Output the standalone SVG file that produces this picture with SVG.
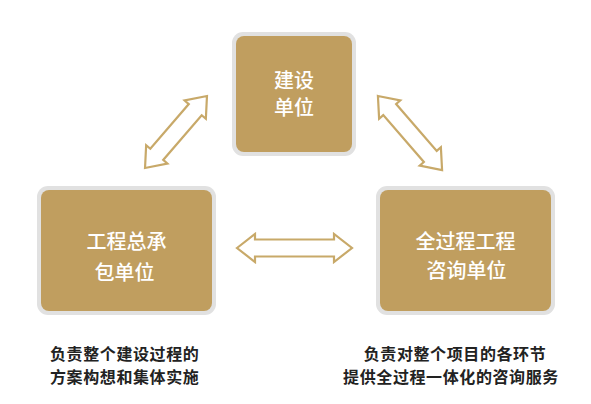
<svg xmlns="http://www.w3.org/2000/svg" width="591" height="404" viewBox="0 0 591 404">
<defs>
<style>
.frame{fill:#e1e1e1}
.box{fill:#c09e5f}
.lbl{font-family:"Noto Sans CJK SC","Noto Sans",sans-serif;font-size:20px;fill:#ffffff;text-anchor:middle;font-weight:500}
.note{font-family:"Noto Sans CJK SC","Noto Sans",sans-serif;font-size:16px;letter-spacing:0.6px;fill:#222222;font-weight:bold}
.arr{fill:#ffffff;stroke:#c8a969;stroke-width:2.2;stroke-linejoin:miter}
</style>
</defs>
<rect width="591" height="404" fill="#ffffff"/>
<g id="node-build">
<rect class="frame" x="232" y="32" width="124" height="124" rx="11"/>
<rect class="box" x="236" y="36" width="116" height="116" rx="8"/>
<text class="lbl" x="294" y="88">建设</text>
<text class="lbl" x="294" y="115">单位</text>
</g>
<g id="node-epc">
<rect class="frame" x="37" y="186" width="179" height="129" rx="11"/>
<rect class="box" x="41" y="190" width="171" height="121" rx="8"/>
<text class="lbl" x="126.5" y="249">工程总承</text>
<text class="lbl" x="124.5" y="280">包单位</text>
</g>
<g id="node-consult">
<rect class="frame" x="376" y="186" width="179" height="129" rx="11"/>
<rect class="box" x="380" y="190" width="171" height="121" rx="8"/>
<text class="lbl" x="465.5" y="249">全过程工程</text>
<text class="lbl" x="466.5" y="278">咨询单位</text>
</g>
<g id="connectors">
<polygon class="arr" transform="translate(294.5,248)" points="-57.5,0 -39.5,-14 -39.5,-8.5 39.5,-8.5 39.5,-14 57.5,0 39.5,14 39.5,8.5 -39.5,8.5 -39.5,14"/>
<polygon class="arr" transform="translate(176,132) rotate(-49.3)" points="-47.5,0 -29.5,-14 -29.5,-8.5 29.5,-8.5 29.5,-14 47.5,0 29.5,14 29.5,8.5 -29.5,8.5 -29.5,14"/>
<polygon class="arr" transform="translate(410,133) rotate(49.1)" points="-49,0 -31,-14 -31,-8.5 31,-8.5 31,-14 49,0 31,14 31,8.5 -31,8.5 -31,14"/>
</g>
<g id="notes">
<text class="note" x="50" y="360">负责整个建设过程的</text>
<text class="note" x="50" y="383">方案构想和集体实施</text>
<text class="note" x="455" y="360" text-anchor="middle">负责对整个项目的各环节</text>
<text class="note" x="451" y="383" text-anchor="middle">提供全过程一体化的咨询服务</text>
</g>
</svg>
